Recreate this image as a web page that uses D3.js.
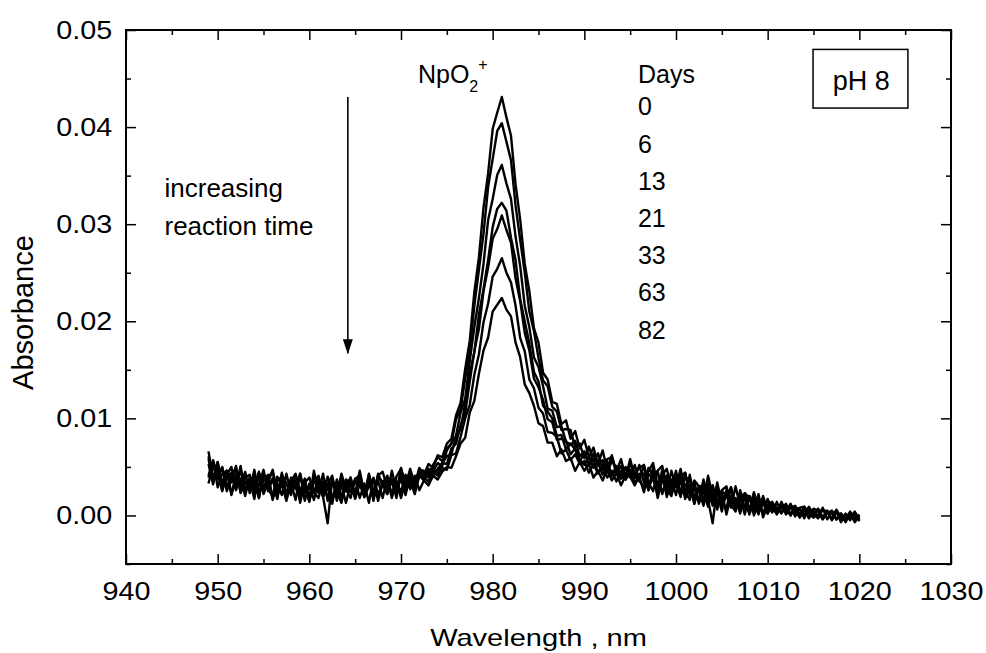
<!DOCTYPE html>
<html>
<head>
<meta charset="utf-8">
<script src="https://cdn.jsdelivr.net/npm/d3@7"></script>
<style>
  body { margin: 0; background: #fff; }
  svg text { font-family: "Liberation Sans", Arial, Helvetica, sans-serif; fill: #000; }
</style>
</head>
<body>
<div id="chart"></div>
<script>
// wavelength grid (nm)
var wavelength = [949,949.5,950,950.5,951,951.5,952,952.5,953,953.5,954,954.5,955,955.5,956,956.5,957,957.5,958,958.5,959,959.5,960,960.5,961,961.5,962,962.5,963,963.5,964,964.5,965,965.5,966,966.5,967,967.5,968,968.5,969,969.5,970,970.5,971,971.5,972,972.5,973,973.5,974,974.5,975,975.5,976,976.5,977,977.5,978,978.5,979,979.5,980,980.5,981,981.5,982,982.5,983,983.5,984,984.5,985,985.5,986,986.5,987,987.5,988,988.5,989,989.5,990,990.5,991,991.5,992,992.5,993,993.5,994,994.5,995,995.5,996,996.5,997,997.5,998,998.5,999,999.5,1000,1000.5,1001,1001.5,1002,1002.5,1003,1003.5,1004,1004.5,1005,1005.5,1006,1006.5,1007,1007.5,1008,1008.5,1009,1009.5,1010,1010.5,1011,1011.5,1012,1012.5,1013,1013.5,1014,1014.5,1015,1015.5,1016,1016.5,1017,1017.5,1018,1018.5,1019,1019.5,1020];

// absorbance, one array per reaction time
var day0 = [66e-4,38e-4,50e-4,27e-4,42e-4,50e-4,27e-4,38e-4,20e-4,40e-4,28e-4,45e-4,22e-4,34e-4,47e-4,24e-4,37e-4,19e-4,39e-4,27e-4,43e-4,15e-4,33e-4,23e-4,39e-4,20e-4,32e-4,41e-4,15e-4,35e-4,25e-4,39e-4,20e-4,46e-4,23e-4,33e-4,20e-4,43e-4,30e-4,41e-4,21e-4,40e-4,48e-4,31e-4,48e-4,32e-4,49e-4,42e-4,53e-4,
  49e-4,62e-4,60e-4,74e-4,79e-4,103e-4,116e-4,151e-4,180e-4,230e-4,266e-4,317e-4,352e-4,398e-4,415e-4,431e-4,410e-4,391e-4,341e-4,305e-4,259e-4,231e-4,193e-4,178e-4,147e-4,140e-4,117e-4,115e-4,94e-4,98e-4,79e-4,87e-4,69e-4,78e-4,60e-4,70e-4,53e-4,67e-4,47e-4,62e-4,45e-4,58e-4,39e-4,58e-4,39e-4,52e-4,
  34e-4,46e-4,54e-4,30e-4,40e-4,24e-4,46e-4,29e-4,48e-4,25e-4,16e-4,36e-4,30e-4,14e-4,41e-4,20e-4,12e-4,26e-4,30e-4,9e-4,18e-4,2e-4,23e-4,18e-4,6e-4,22e-4,-2e-4,
  11e-4,14e-4,2e-4,12e-4,4e-4,12e-4,1e-4,7e-4,0,9e-4,1e-4,-3e-4,6e-4,4e-4,-4e-4,6e-4,-3e-4,1e-4,-5e-4,4e-4,-4e-4];
var day6 = [39e-4,56e-4,44e-4,25e-4,46e-4,34e-4,51e-4,24e-4,39e-4,42e-4,21e-4,31e-4,47e-4,25e-4,38e-4,17e-4,42e-4,33e-4,21e-4,42e-4,25e-4,38e-4,15e-4,46e-4,23e-4,32e-4,18e-4,38e-4,21e-4,43e-4,27e-4,18e-4,37e-4,42e-4,22e-4,37e-4,18e-4,41e-4,45e-4,28e-4,37e-4,24e-4,49e-4,31e-4,45e-4,30e-4,47e-4,
  46e-4,42e-4,52e-4,60e-4,56e-4,69e-4,74e-4,99e-4,109e-4,141e-4,168e-4,216e-4,253e-4,290e-4,338e-4,367e-4,396e-4,404e-4,385e-4,366e-4,319e-4,284e-4,250e-4,210e-4,190e-4,162e-4,139e-4,133e-4,112e-4,107e-4,88e-4,89e-4,88e-4,70e-4,74e-4,59e-4,71e-4,56e-4,64e-4,47e-4,58e-4,60e-4,43e-4,51e-4,39e-4,53e-4,43e-4,49e-4,
  52e-4,34e-4,25e-4,46e-4,51e-4,30e-4,37e-4,21e-4,41e-4,44e-4,21e-4,29e-4,15e-4,37e-4,19e-4,31e-4,6e-4,25e-4,21e-4,8e-4,30e-4,9e-4,19e-4,2e-4,20e-4,13e-4,1e-4,
  17e-4,6e-4,3e-4,14e-4,4e-4,10e-4,-1e-4,8e-4,9e-4,-1e-4,5e-4,-1e-4,8e-4,-4e-4,3e-4,4e-4,-7e-4,2e-4,-3e-4,3e-4,-6e-4];
var day13 = [61e-4,35e-4,45e-4,49e-4,25e-4,39e-4,29e-4,51e-4,24e-4,34e-4,40e-4,18e-4,44e-4,27e-4,20e-4,40e-4,33e-4,15e-4,35e-4,43e-4,21e-4,34e-4,19e-4,39e-4,25e-4,43e-4,15e-4,33e-4,25e-4,13e-4,37e-4,33e-4,18e-4,41e-4,23e-4,38e-4,15e-4,41e-4,34e-4,22e-4,46e-4,27e-4,38e-4,21e-4,43e-4,33e-4,46e-4,
  38e-4,48e-4,45e-4,54e-4,51e-4,67e-4,74e-4,82e-4,106e-4,120e-4,159e-4,194e-4,224e-4,259e-4,304e-4,326e-4,351e-4,361e-4,342e-4,326e-4,287e-4,257e-4,216e-4,194e-4,163e-4,153e-4,133e-4,110e-4,108e-4,91e-4,92e-4,76e-4,73e-4,77e-4,61e-4,66e-4,52e-4,64e-4,51e-4,57e-4,44e-4,56e-4,49e-4,38e-4,50e-4,40e-4,52e-4,36e-4,
  29e-4,49e-4,41e-4,21e-4,42e-4,48e-4,26e-4,34e-4,19e-4,43e-4,25e-4,35e-4,13e-4,29e-4,33e-4,13e-4,24e-4,4e-4,26e-4,17e-4,6e-4,26e-4,8e-4,20e-4,0,13e-4,18e-4,
  4e-4,10e-4,1e-4,11e-4,8e-4,0,9e-4,1e-4,9e-4,1e-4,-2e-4,7e-4,-2e-4,5e-4,-5e-4,3e-4,1e-4,-5e-4,3e-4,-5e-4,1e-4];
var day21 = [53e-4,32e-4,55e-4,33e-4,46e-4,22e-4,38e-4,46e-4,25e-4,37e-4,17e-4,43e-4,28e-4,39e-4,45e-4,21e-4,32e-4,17e-4,35e-4,39e-4,22e-4,31e-4,14e-4,37e-4,32e-4,19e-4,-8e-4,38e-4,21e-4,39e-4,25e-4,36e-4,17e-4,33e-4,19e-4,43e-4,24e-4,36e-4,18e-4,39e-4,33e-4,23e-4,42e-4,27e-4,39e-4,25e-4,44e-4,
  44e-4,39e-4,47e-4,44e-4,54e-4,61e-4,63e-4,81e-4,89e-4,115e-4,146e-4,168e-4,207e-4,233e-4,263e-4,297e-4,316e-4,322e-4,314e-4,286e-4,263e-4,223e-4,200e-4,177e-4,148e-4,138e-4,113e-4,107e-4,100e-4,82e-4,83e-4,68e-4,74e-4,68e-4,55e-4,65e-4,52e-4,58e-4,44e-4,52e-4,56e-4,41e-4,49e-4,38e-4,49e-4,39e-4,46e-4,35e-4,
  52e-4,29e-4,39e-4,46e-4,22e-4,39e-4,27e-4,46e-4,21e-4,31e-4,37e-4,12e-4,30e-4,31e-4,16e-4,-8e-4,30e-4,10e-4,20e-4,29e-4,6e-4,19e-4,1e-4,20e-4,13e-4,1e-4,20e-4,
  5e-4,11e-4,2e-4,8e-4,12e-4,1e-4,8e-4,-2e-4,5e-4,8e-4,-1e-4,6e-4,-4e-4,3e-4,-3e-4,5e-4,-3e-4,-5e-4,2e-4,0,-5e-4];
var day33 = [33e-4,52e-4,37e-4,50e-4,29e-4,41e-4,49e-4,23e-4,35e-4,26e-4,47e-4,23e-4,36e-4,42e-4,18e-4,33e-4,21e-4,43e-4,23e-4,37e-4,13e-4,34e-4,39e-4,24e-4,18e-4,35e-4,31e-4,12e-4,37e-4,20e-4,30e-4,39e-4,19e-4,33e-4,20e-4,42e-4,25e-4,18e-4,35e-4,38e-4,18e-4,35e-4,24e-4,42e-4,27e-4,41e-4,26e-4,
  36e-4,45e-4,40e-4,48e-4,54e-4,53e-4,69e-4,74e-4,93e-4,105e-4,138e-4,169e-4,192e-4,231e-4,255e-4,285e-4,295e-4,309e-4,294e-4,281e-4,244e-4,221e-4,188e-4,170e-4,141e-4,132e-4,119e-4,99e-4,96e-4,78e-4,79e-4,77e-4,63e-4,69e-4,57e-4,52e-4,61e-4,49e-4,54e-4,42e-4,52e-4,41e-4,51e-4,40e-4,37e-4,47e-4,38e-4,43e-4,
  43e-4,26e-4,50e-4,30e-4,43e-4,19e-4,35e-4,43e-4,22e-4,44e-4,22e-4,31e-4,12e-4,32e-4,25e-4,10e-4,34e-4,12e-4,25e-4,11e-4,4e-4,24e-4,17e-4,5e-4,24e-4,6e-4,15e-4,
  2e-4,13e-4,5e-4,11e-4,1e-4,8e-4,10e-4,0,6e-4,-3e-4,7e-4,5e-4,-4e-4,3e-4,4e-4,-4e-4,2e-4,-4e-4,4e-4,-4e-4,0];
var day63 = [58e-4,38e-4,55e-4,26e-4,40e-4,44e-4,26e-4,48e-4,27e-4,34e-4,21e-4,44e-4,28e-4,40e-4,16e-4,35e-4,40e-4,21e-4,34e-4,16e-4,43e-4,23e-4,30e-4,16e-4,36e-4,25e-4,40e-4,18e-4,31e-4,14e-4,35e-4,24e-4,38e-4,18e-4,33e-4,13e-4,39e-4,22e-4,31e-4,37e-4,21e-4,35e-4,18e-4,35e-4,43e-4,26e-4,41e-4,
  39e-4,35e-4,45e-4,41e-4,49e-4,47e-4,62e-4,64e-4,81e-4,100e-4,114e-4,145e-4,166e-4,199e-4,218e-4,246e-4,254e-4,265e-4,250e-4,240e-4,216e-4,183e-4,169e-4,140e-4,131e-4,111e-4,105e-4,86e-4,85e-4,81e-4,64e-4,68e-4,57e-4,63e-4,53e-4,56e-4,44e-4,53e-4,43e-4,52e-4,39e-4,46e-4,35e-4,46e-4,37e-4,44e-4,34e-4,40e-4,
  24e-4,43e-4,37e-4,25e-4,47e-4,27e-4,20e-4,42e-4,34e-4,20e-4,42e-4,19e-4,26e-4,10e-4,30e-4,15e-4,30e-4,14e-4,7e-4,29e-4,9e-4,19e-4,21e-4,1e-4,14e-4,19e-4,1e-4,
  11e-4,3e-4,14e-4,3e-4,8e-4,0,8e-4,7e-4,-3e-4,8e-4,0,5e-4,-3e-4,2e-4,5e-4,-4e-4,2e-4,-7e-4,2e-4,1e-4,-5e-4];
var day82 = [41e-4,57e-4,29e-4,43e-4,46e-4,21e-4,43e-4,31e-4,45e-4,23e-4,38e-4,18e-4,42e-4,29e-4,38e-4,18e-4,44e-4,23e-4,31e-4,39e-4,19e-4,33e-4,15e-4,35e-4,41e-4,19e-4,29e-4,15e-4,35e-4,31e-4,13e-4,33e-4,24e-4,39e-4,19e-4,30e-4,38e-4,15e-4,33e-4,22e-4,38e-4,18e-4,43e-4,24e-4,36e-4,22e-4,41e-4,
  36e-4,31e-4,41e-4,37e-4,45e-4,50e-4,49e-4,61e-4,74e-4,80e-4,106e-4,118e-4,146e-4,170e-4,183e-4,210e-4,217e-4,224e-4,212e-4,205e-4,178e-4,163e-4,135e-4,126e-4,113e-4,95e-4,92e-4,75e-4,75e-4,61e-4,68e-4,56e-4,59e-4,46e-4,55e-4,46e-4,53e-4,39e-4,46e-4,36e-4,48e-4,36e-4,44e-4,31e-4,41e-4,40e-4,31e-4,41e-4,
  43e-4,26e-4,45e-4,18e-4,36e-4,41e-4,23e-4,32e-4,41e-4,17e-4,31e-4,12e-4,30e-4,24e-4,9e-4,31e-4,13e-4,25e-4,1e-4,20e-4,17e-4,4e-4,23e-4,6e-4,18e-4,3e-4,13e-4,
  2e-4,13e-4,8e-4,2e-4,10e-4,1e-4,6e-4,-2e-4,7e-4,5e-4,-2e-4,6e-4,-2e-4,2e-4,3e-4,-4e-4,1e-4,-4e-4,2e-4,-7e-4,0];

var days = ["0", "6", "13", "21", "33", "63", "82"];
var spectra = [day0, day6, day13, day21, day33, day63, day82];

var xMajor = [940, 950, 960, 970, 980, 990, 1000, 1010, 1020, 1030];
var xMinor = [945, 955, 965, 975, 985, 995, 1005, 1015, 1025];
var yMajor = [0, 0.01, 0.02, 0.03, 0.04, 0.05];
var yMinor = [-0.005, 0.005, 0.015, 0.025, 0.035, 0.045];

var margin = {top: 30, right: 35, bottom: 89, left: 126},
    width = 986 - margin.left - margin.right,
    height = 653 - margin.top - margin.bottom;

var svg = d3.select("#chart").append("svg")
    .attr("width", 986)
    .attr("height", 653);
svg.append("rect").attr("width", 986).attr("height", 653).attr("fill", "#fff");

var g = svg.append("g")
    .attr("transform", "translate(" + margin.left + "," + margin.top + ")");

var x = d3.scaleLinear().domain([940, 1030]).range([0, width]);
var y = d3.scaleLinear().domain([-0.005, 0.05]).range([height, 0]);

// spectra
var line = d3.line()
    .x(function(d, i) { return x(wavelength[i]); })
    .y(function(d) { return y(d); });

g.selectAll(".spectrum")
    .data(spectra)
  .enter().append("path")
    .attr("class", "spectrum")
    .attr("d", line)
    .attr("fill", "none")
    .attr("stroke", "#000")
    .attr("stroke-width", 2.4)
    .attr("stroke-linejoin", "round");

// axes, ticks pointing inward on all four sides
function drawAxis(axis, transform) {
  var a = g.append("g")
      .attr("transform", transform)
      .call(axis);
  a.select(".domain").remove();
  a.selectAll("line").attr("stroke", "#000").attr("stroke-width", 1.5);
  a.attr("font-family", null).attr("font-size", 25);
  return a;
}

var xAxis = drawAxis(d3.axisBottom(x).tickValues(xMajor).tickFormat(d3.format("d"))
    .tickSizeInner(-10).tickSizeOuter(0), "translate(0," + height + ")");
xAxis.selectAll("text")
    .attr("y", 36).attr("dy", null)
    .attr("transform", "scale(1.15,1)");
drawAxis(d3.axisBottom(x).tickValues(xMinor).tickSizeInner(-5).tickSizeOuter(0).tickFormat(""),
    "translate(0," + height + ")");
drawAxis(d3.axisTop(x).tickValues(xMajor).tickSizeInner(-10).tickSizeOuter(0).tickFormat(""), "translate(0,0)");
drawAxis(d3.axisTop(x).tickValues(xMinor).tickSizeInner(-5).tickSizeOuter(0).tickFormat(""), "translate(0,0)");

var yAxis = drawAxis(d3.axisLeft(y).tickValues(yMajor).tickFormat(d3.format(".2f"))
    .tickSizeInner(-10).tickSizeOuter(0).tickPadding(12), "translate(0,0)");
yAxis.selectAll("text").attr("transform", "scale(1.15,1)");
drawAxis(d3.axisLeft(y).tickValues(yMinor).tickSizeInner(-5).tickSizeOuter(0).tickFormat(""), "translate(0,0)");
drawAxis(d3.axisRight(y).tickValues(yMajor).tickSizeInner(-10).tickSizeOuter(0).tickFormat(""),
    "translate(" + width + ",0)");
drawAxis(d3.axisRight(y).tickValues(yMinor).tickSizeInner(-5).tickSizeOuter(0).tickFormat(""),
    "translate(" + width + ",0)");

// frame
g.append("rect")
    .attr("width", width)
    .attr("height", height)
    .attr("fill", "none")
    .attr("stroke", "#000")
    .attr("stroke-width", 2);

// axis titles
g.append("text")
    .attr("transform", "translate(" + (width / 2) + "," + (height + 82) + ") scale(1.21,1)")
    .attr("text-anchor", "middle")
    .attr("font-size", 24)
    .text("Wavelength , nm");

g.append("text")
    .attr("transform", "translate(-93," + y(0.0209) + ") rotate(-90)")
    .attr("text-anchor", "middle")
    .attr("font-size", 29)
    .text("Absorbance");

// annotations
var defs = svg.append("defs");
defs.append("marker")
    .attr("id", "head")
    .attr("markerUnits", "userSpaceOnUse")
    .attr("markerWidth", 16).attr("markerHeight", 10)
    .attr("refX", 14).attr("refY", 5)
    .attr("orient", "auto")
  .append("path")
    .attr("d", "M0,0 L15,5 L0,10 Z")
    .attr("fill", "#000");

g.append("line")
    .attr("x1", x(964.2)).attr("x2", x(964.2))
    .attr("y1", y(0.0431)).attr("y2", y(0.0167))
    .attr("stroke", "#000")
    .attr("stroke-width", 1.6)
    .attr("marker-end", "url(#head)");

g.append("text")
    .attr("x", x(944.2)).attr("y", y(0.0328))
    .attr("font-size", 26)
    .text("increasing");
g.append("text")
    .attr("x", x(944.2)).attr("y", y(0.0289))
    .attr("font-size", 26)
    .text("reaction time");

var np = g.append("text")
    .attr("x", x(971.85)).attr("y", y(0.0445))
    .attr("font-size", 25)
    .text("NpO");
np.append("tspan").attr("font-size", 16).attr("dy", 9).text("2");
np.append("tspan").attr("font-size", 16).attr("dy", -22).text("+");

g.append("text")
    .attr("x", x(995.85)).attr("y", y(0.0445))
    .attr("font-size", 25)
    .text("Days");

g.selectAll(".day")
    .data(days)
  .enter().append("text")
    .attr("class", "day")
    .attr("x", x(995.85))
    .attr("y", function(d, i) { return y(0.0412) + i * 37.2; })
    .attr("font-size", 25)
    .text(function(d) { return d; });

// pH label box
g.append("rect")
    .attr("x", x(1014.95)).attr("y", y(0.0480))
    .attr("width", x(1025.3) - x(1014.95))
    .attr("height", y(0.04196) - y(0.0480))
    .attr("fill", "none")
    .attr("stroke", "#000")
    .attr("stroke-width", 1.5);
g.append("text")
    .attr("x", x(1020.2)).attr("y", y(0.04387))
    .attr("text-anchor", "middle")
    .attr("font-size", 27)
    .text("pH 8");
</script>
</body>
</html>
